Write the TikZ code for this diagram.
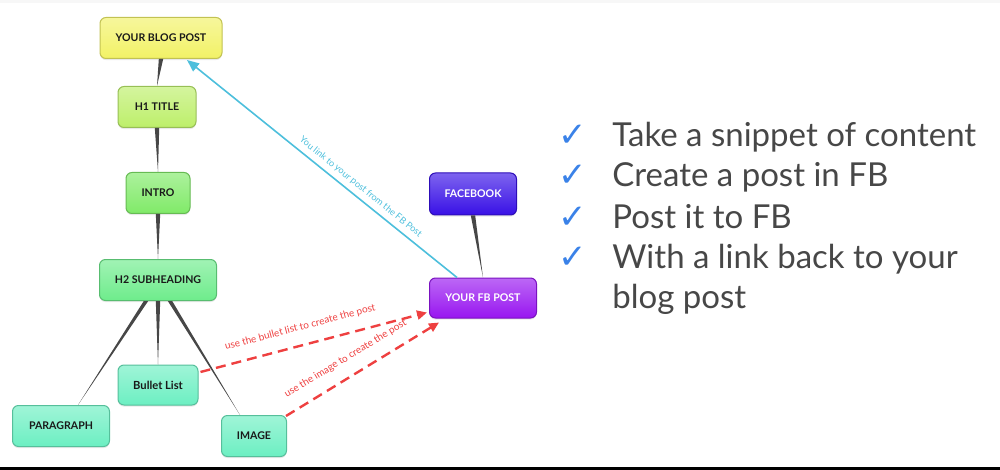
\documentclass[tikz,border=0pt]{standalone}
\usepackage{fontspec}
\setmainfont{Lato}
\newfontfamily\symbolfont{DejaVu Sans}
\usetikzlibrary{calc,arrows.meta,shadows}

\definecolor{blogyellow}{HTML}{F2F266}
\definecolor{titlelime}{HTML}{BDEF6A}
\definecolor{introgreen}{HTML}{80EA68}
\definecolor{subgreen}{HTML}{6EEC8C}
\definecolor{leafaqua}{HTML}{6CEFC2}
\definecolor{fbblue}{HTML}{3810E6}
\definecolor{fbpurple}{HTML}{9816F0}
\definecolor{linkcyan}{HTML}{4DBFDC}
\definecolor{useRed}{HTML}{EE4040}
\definecolor{tickblue}{HTML}{3A82E8}

\tikzset{
  topic/.style={rounded corners=3pt, draw=#1!80!black, line width=0.5pt,
    top color=#1!65!white, bottom color=#1, minimum height=20.5pt,
    inner sep=0pt, text=black!90,
    font=\fontsize{5.3}{6}\selectfont\bfseries,
    drop shadow={shadow xshift=0pt, shadow yshift=-0.8pt, opacity=0.18}},
  fbtopic/.style={topic=#1, text=white},
  linkline/.style={draw=linkcyan, line width=0.8pt,
    -{Triangle[length=6pt,width=5pt]}},
  useline/.style={draw=useRed, line width=1.2pt, dash pattern=on 5pt off 3pt,
    -{Triangle[length=5pt,width=4.5pt]}},
  linktext/.style={sloped, above=2pt, inner sep=0.5pt,
    font=\fontsize{4.6}{5}\selectfont},
  usetext/.style={linktext, above=3.5pt, text=useRed,
    font=\fontsize{5}{5.5}\selectfont},
  item/.style={anchor=base west, inner sep=0pt, text=black!72,
    font=\fontsize{16.5}{19}\selectfont},
  check/.style={anchor=base, inner sep=0pt, text=tickblue,
    font=\symbolfont\fontsize{17}{18}\selectfont}
}

% tapered branch of the mind map, wide at the parent end
\newcommand{\branch}[2]{\fill[black!72] ($(#1)+(-2.2,0)$) -- (#2) -- ($(#1)+(2.2,0)$) -- cycle;}

\begin{document}
\begin{tikzpicture}[x=0.5pt,y=-0.5pt]
    \useasboundingbox (0,0) rectangle (1000,470);
    \fill[black!3] (0,0) rectangle (1000,3);
    \draw[line width=1.2pt] (0,468.5) -- (1000,468.5);
    % The blog post and its parts
    \node[topic=blogyellow, minimum width=61pt] (blog) at (161,38) {YOUR BLOG POST};
    \node[topic=titlelime, minimum width=39pt] (h1) at (157,107) {H1 TITLE};
    \node[topic=introgreen, minimum width=32pt] (intro) at (158,193) {INTRO};
    \node[topic=subgreen, minimum width=58.5pt] (h2) at (158,280) {H2 SUBHEADING};
    \node[topic=leafaqua, minimum width=40pt, minimum height=20pt,
          font=\fontsize{5.6}{6}\selectfont\bfseries] (bullet) at (158,385) {Bullet List};
    \node[topic=leafaqua, minimum width=48.5pt] (para) at (61,426) {PARAGRAPH};
    \node[topic=leafaqua, minimum width=32.5pt] (image) at (254,436) {IMAGE};
    % The Facebook side
    \node[fbtopic=fbblue, minimum width=43.5pt, minimum height=21pt] (facebook) at (473,194) {FACEBOOK};
    \node[fbtopic=fbpurple, minimum width=53.5pt, minimum height=20pt] (fbpost) at (483,298) {YOUR FB POST};
    % Branches between parents and children
    \branch{blog.south}{h1.north}
    \branch{h1.south}{intro.north}
    \branch{intro.south}{h2.north}
    \coordinate (h2left) at ($(h2.south)+(-12,0)$);
    \coordinate (h2right) at ($(h2.south)+(12,0)$);
    \branch{h2left}{$(para.north)+(17,0)$}
    \branch{h2.south}{bullet.north}
    \branch{h2right}{$(image.north)+(-14,0)$}
    \branch{facebook.south}{fbpost.north}
    % Link back from the FB post to the blog post
    \draw[linkline] ($(fbpost.north)+(-26,0)$) -- node[linktext, pos=0.38, text=linkcyan]
        {You link to your post from the FB Post} ($(blog.south)+(26,1)$);
    % What is used to make the FB post
    \draw[useline] ($(bullet.east)+(2,-13)$) -- node[usetext, pos=0.46]
        {use the bullet list to create the post} ($(fbpost.south west)+(-2,-6)$);
    \draw[useline] ($(image.north east)+(-1,1)$) -- node[usetext, pos=0.45]
        {use the image to create the post} ($(fbpost.south west)+(10,4)$);
    % The check list
    \foreach \n/\yy/\txt in {1/147/Take a snippet of content, 2/187/Create a post in FB,
        3/228/Post it to FB, 4/268/With a link back to your}{
        \node[check] (tick\n) at (573,\yy) {✓};
        \node[item] (item\n) at (612,\yy) {\txt};
    }
    \node[item] (item5) at (612,308) {blog post};
\end{tikzpicture}
\end{document}
